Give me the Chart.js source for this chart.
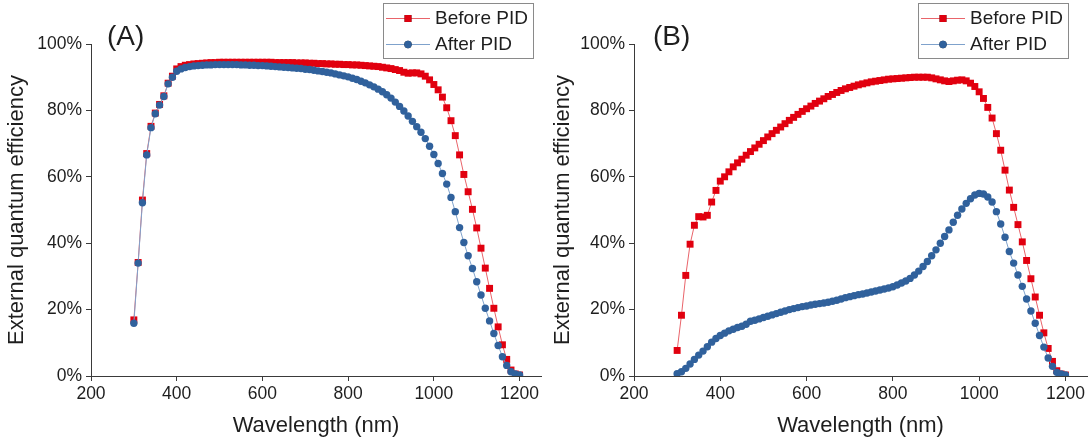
<!DOCTYPE html>
<html>
<head>
<meta charset="utf-8">
<script src="https://cdn.jsdelivr.net/npm/chart.js@4.4.1/dist/chart.umd.min.js"></script>
<style>
  html, body { margin: 0; padding: 0; background: #fff; }
  .panel { position: absolute; top: 0; width: 546px; height: 442px; }
  #panelA { left: 0; }
  #panelB { left: 546px; }
</style>
</head>
<body>
<div class="panel" id="panelA"><canvas id="eqeA" width="546" height="442"></canvas></div>
<div class="panel" id="panelB"><canvas id="eqeB" width="546" height="442"></canvas></div>
<script>
// wavelength grid, 300..1200 nm every 10 nm
const wavelengths = [
  300, 310, 320, 330, 340, 350, 360, 370, 380, 390,
  400, 410, 420, 430, 440, 450, 460, 470, 480, 490,
  500, 510, 520, 530, 540, 550, 560, 570, 580, 590,
  600, 610, 620, 630, 640, 650, 660, 670, 680, 690,
  700, 710, 720, 730, 740, 750, 760, 770, 780, 790,
  800, 810, 820, 830, 840, 850, 860, 870, 880, 890,
  900, 910, 920, 930, 940, 950, 960, 970, 980, 990,
  1000, 1010, 1020, 1030, 1040, 1050, 1060, 1070, 1080, 1090,
  1100, 1110, 1120, 1130, 1140, 1150, 1160, 1170, 1180, 1190,
  1200
];

// (A) EQE in %
const beforeA = [
  16.9, 34.2, 53.0, 67.0, 75.2, 79.2, 81.8, 84.4, 88.2, 90.3,
  92.5, 93.2, 93.6, 93.8, 94.0, 94.1, 94.2, 94.3, 94.4, 94.4,
  94.5, 94.5, 94.5, 94.5, 94.5, 94.5, 94.5, 94.5, 94.5, 94.5,
  94.5, 94.5, 94.5, 94.4, 94.4, 94.4, 94.4, 94.4, 94.3, 94.3,
  94.3, 94.2, 94.2, 94.1, 94.1, 94.0, 94.0, 93.9, 93.9, 93.8,
  93.8, 93.7, 93.7, 93.6, 93.5, 93.4, 93.3, 93.2, 93.0, 92.8,
  92.6, 92.3, 92.0, 91.5, 91.2, 91.3, 91.3, 91.0, 90.3, 89.2,
  87.8, 86.2, 84.0, 80.8, 76.9, 72.4, 66.6, 60.7, 55.5, 50.2,
  44.6, 38.5, 32.5, 26.4, 20.4, 14.8, 9.4, 5.0, 1.8, 0.6,
  0.3
];
const afterA = [
  15.9, 34.0, 52.2, 66.6, 74.8, 79.0, 81.6, 84.2, 88.0, 90.0,
  91.8, 92.5, 92.9, 93.2, 93.4, 93.5, 93.6, 93.7, 93.7, 93.8,
  93.8, 93.8, 93.8, 93.8, 93.8, 93.7, 93.7, 93.6, 93.6, 93.5,
  93.5, 93.4, 93.3, 93.2, 93.1, 93.0, 92.9, 92.8, 92.7, 92.6,
  92.4, 92.3, 92.1, 91.9, 91.7, 91.5, 91.3, 91.0, 90.7, 90.4,
  90.1, 89.7, 89.3, 88.8, 88.3, 87.7, 87.1, 86.4, 85.6, 84.7,
  83.7, 82.5, 81.2, 79.8, 78.3, 76.7, 75.1, 73.4, 71.5, 69.2,
  66.7, 64.0, 61.0, 57.8, 53.8, 49.5, 44.7, 40.2, 36.2, 32.4,
  28.4, 24.4, 20.4, 16.6, 12.8, 9.2, 5.8, 3.2, 1.3, 0.6,
  0.3
];

// (B) EQE in %
const beforeB = [
  7.7, 18.3, 30.3, 39.7, 45.4, 48.0, 47.9, 48.4, 52.4, 55.9,
  58.7, 60.0, 61.5, 63.0, 64.2, 65.3, 66.5, 67.6, 68.7, 69.8,
  70.9, 72.0, 73.0, 74.0, 75.0, 76.0, 77.0, 77.9, 78.8, 79.7,
  80.5, 81.3, 82.1, 82.8, 83.5, 84.2, 84.8, 85.4, 86.0, 86.5,
  86.9, 87.3, 87.7, 88.0, 88.3, 88.6, 88.8, 89.0, 89.2, 89.4,
  89.5, 89.6, 89.7, 89.8, 89.9, 90.0, 90.0, 90.0, 90.0, 89.8,
  89.5, 89.2, 88.9, 88.7, 88.9, 89.1, 89.2, 88.9, 88.2, 87.2,
  85.6, 83.6, 80.9, 77.7, 73.0, 68.0, 62.0, 56.0, 50.8, 45.6,
  40.4, 34.8, 29.3, 23.8, 18.3, 13.0, 8.3, 4.4, 1.6, 0.6,
  0.3
];
const afterB = [
  0.7, 1.3, 2.3, 3.6, 5.0, 6.3, 7.5, 8.8, 10.2, 11.3,
  12.2, 12.9, 13.6, 14.1, 14.6, 15.0, 15.6, 16.5, 16.8, 17.2,
  17.6, 18.0, 18.4, 18.8, 19.2, 19.6, 20.0, 20.3, 20.6, 20.9,
  21.1, 21.4, 21.6, 21.8, 22.0, 22.2, 22.5, 22.8, 23.2, 23.6,
  23.9, 24.2, 24.5, 24.7, 25.0, 25.3, 25.6, 25.9, 26.2, 26.5,
  26.9, 27.4, 28.0, 28.6, 29.4, 30.4, 31.6, 33.0, 34.5, 36.2,
  38.0, 40.0, 42.0, 44.0, 46.3, 48.4, 50.3, 52.0, 53.4, 54.5,
  55.0, 54.8, 53.9, 52.4, 49.5, 45.8, 41.8, 37.5, 34.0, 30.4,
  27.0, 23.2, 19.6, 15.9, 12.2, 8.7, 5.4, 2.9, 1.1, 0.6,
  0.3
];

const xTicks = [200, 400, 600, 800, 1000, 1200];
const yTicks = [0, 20, 40, 60, 80, 100];
const seriesNames = ["Before PID", "After PID"];

const FONT = "'Liberation Sans', Arial, Helvetica, sans-serif";
const RED = "#e1000f";
const RED_LINE = "#e9646a";
const BLUE = "#30619c";
const BLUE_LINE = "#7fa2cc";
const AXIS = "#3a3a3a";
const TEXT = "#1e1e1e";

function toPoints(vals) {
  return wavelengths.map((w, i) => ({ x: w, y: vals[i] }));
}

// panel letter + boxed legend, drawn on top of the plot
const overlay = {
  id: "overlay",
  afterDraw(chart, args, opts) {
    const ctx = chart.ctx;
    ctx.save();
    ctx.fillStyle = TEXT;
    ctx.font = "28px " + FONT;
    ctx.textBaseline = "middle";
    ctx.textAlign = "left";
    ctx.fillText(opts.letter, opts.letterX, 37);

    // legend box
    const bx = opts.legendX, by = 3, bw = 150, bh = 55;
    ctx.strokeStyle = "#8a8a8a";
    ctx.lineWidth = 1;
    ctx.strokeRect(bx + 0.5, by + 0.5, bw, bh);
    ctx.font = "19px " + FONT;
    const sets = [chart.data.datasets[1], chart.data.datasets[0]];
    sets.forEach((ds, i) => {
      const yy = by + 15 + i * 26;
      ctx.strokeStyle = ds.borderColor;
      ctx.lineWidth = 1;
      ctx.beginPath();
      ctx.moveTo(bx + 3, yy + 0.5);
      ctx.lineTo(bx + 47, yy + 0.5);
      ctx.stroke();
      Chart.helpers.drawPoint(ctx, {
        pointStyle: ds.pointStyle,
        radius: ds.pointRadius,
        borderWidth: 0
      }, bx + 25, yy + 0.5);
      ctx.fillStyle = ds.pointBackgroundColor;
      ctx.fill();
      ctx.fillStyle = TEXT;
      ctx.fillText(ds.label, bx + 52, yy + 1);
    });
    ctx.restore();
  }
};

function makeChart(id, before, after, letter, yAxisWidth, letterX, legendX) {
  const ctx = document.getElementById(id).getContext("2d");
  return new Chart(ctx, {
    type: "line",
    data: {
      datasets: [
        {
          label: seriesNames[1],
          data: toPoints(after),
          borderColor: BLUE_LINE,
          borderWidth: 1,
          pointStyle: "circle",
          pointRadius: 3.7,
          pointBackgroundColor: BLUE,
          pointBorderWidth: 0,
          order: 1
        },
        {
          label: seriesNames[0],
          data: toPoints(before),
          borderColor: RED_LINE,
          borderWidth: 1,
          pointStyle: "rect",
          pointRadius: 4.9,
          pointBackgroundColor: RED,
          pointBorderWidth: 0,
          order: 2
        }
      ]
    },
    options: {
      responsive: false,
      devicePixelRatio: 1,
      animation: false,
      events: [],
      layout: {
        padding: { top: 44, right: 5, left: 0, bottom: 0 }
      },
      scales: {
        x: {
          type: "linear",
          min: 200,
          max: 1250,
          afterBuildTicks: (scale) => {
            scale.ticks = xTicks.map(v => ({ value: v }));
          },
          afterFit: (scale) => { scale.height = 66; },
          border: { display: true, color: AXIS, width: 1 },
          grid: {
            display: true,
            drawOnChartArea: false,
            drawTicks: true,
            tickLength: 5,
            color: AXIS
          },
          ticks: {
            color: TEXT,
            padding: 3,
            maxRotation: 0,
            font: { family: FONT, size: 17.5 },
            callback: (v) => String(v)
          },
          title: {
            display: true,
            text: "Wavelength (nm)",
            color: TEXT,
            padding: { top: 0, bottom: 3 },
            font: { family: FONT, size: 22 }
          }
        },
        y: {
          min: 0,
          max: 100,
          afterBuildTicks: (scale) => {
            scale.ticks = yTicks.map(v => ({ value: v }));
          },
          afterFit: (scale) => { scale.width = yAxisWidth; },
          border: { display: true, color: AXIS, width: 1 },
          grid: {
            display: true,
            drawOnChartArea: false,
            drawTicks: true,
            tickLength: 5,
            color: AXIS
          },
          ticks: {
            color: TEXT,
            padding: 4,
            font: { family: FONT, size: 17.5 },
            callback: (v) => v + "%"
          },
          title: {
            display: true,
            text: "External quantum efficiency",
            color: TEXT,
            padding: { top: 4, bottom: 0 },
            font: { family: FONT, size: 22 }
          }
        }
      },
      plugins: {
        legend: { display: false },
        tooltip: { enabled: false },
        overlay: { letter: letter, letterX: letterX, legendX: legendX }
      }
    },
    plugins: [overlay]
  });
}

makeChart("eqeA", beforeA, afterA, "(A)", 91, 107, 383);
makeChart("eqeB", beforeB, afterB, "(B)", 88, 107, 372);
</script>
</body>
</html>
